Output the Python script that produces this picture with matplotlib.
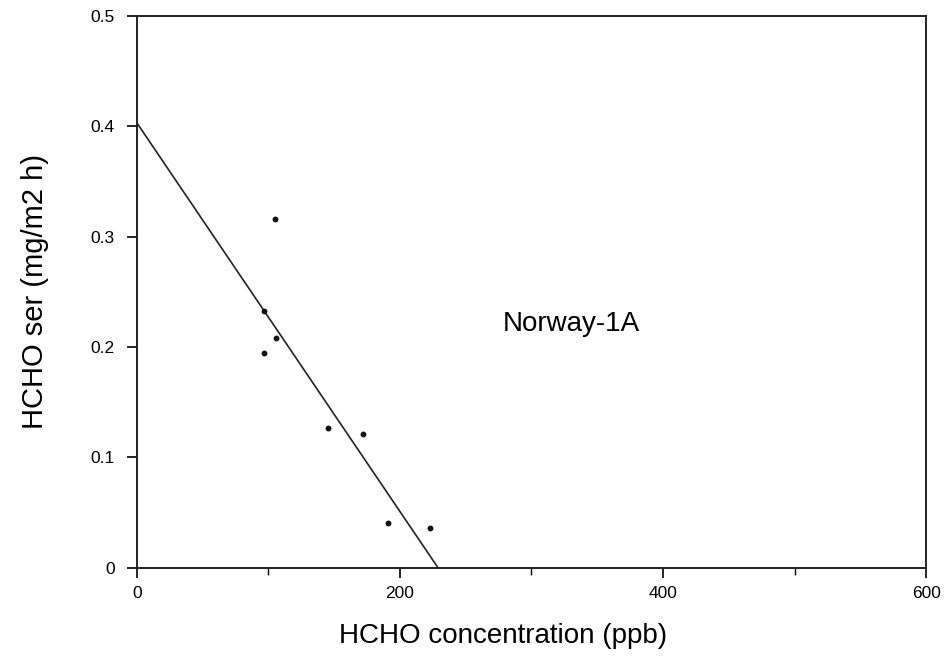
import matplotlib
matplotlib.use("Agg")
import matplotlib.pyplot as plt

plt.rcParams["font.family"] = ["Liberation Sans", "DejaVu Sans"]

# measured emission rate vs. chamber concentration
conc_ppb = [105, 97, 106, 97, 145, 172, 191, 223]
ser = [0.316, 0.233, 0.208, 0.195, 0.127, 0.121, 0.041, 0.036]

# fitted regression line
fit_intercept = 0.403
fit_x_zero = 229

xticks = [0, 200, 400, 600]
xminor = [100, 300, 500]
yticks = [0, 0.1, 0.2, 0.3, 0.4, 0.5]
ytick_labels = ["0", "0.1", "0.2", "0.3", "0.4", "0.5"]

fig = plt.figure(figsize=(9.44, 6.58), dpi=100)
ax = fig.add_axes([0.145, 0.137, 0.836, 0.839])

ax.plot([0, fit_x_zero], [fit_intercept, 0], color="#222222", linewidth=1.2)
ax.plot(conc_ppb, ser, linestyle="none", marker="o", markersize=3.2,
        color="#111111")

ax.set_xlim(0, 600)
ax.set_ylim(0, 0.5)
ax.set_xticks(xticks)
ax.set_xticks(xminor, minor=True)
ax.set_yticks(yticks)
ax.set_yticklabels(ytick_labels)
ax.tick_params(axis="both", which="major", direction="out", length=7,
               width=1.2, labelsize=12.5)
ax.tick_params(axis="x", which="major", pad=6)
ax.tick_params(axis="y", which="major", pad=9)
ax.tick_params(axis="x", which="minor", direction="out", length=5, width=1.0)

for s in ax.spines.values():
    s.set_linewidth(1.4)
    s.set_color("#222222")

ax.set_xlabel("HCHO concentration (ppb)", fontsize=20, labelpad=16, x=0.4645)
ax.set_ylabel("HCHO ser (mg/m2 h)", fontsize=21, labelpad=30)
ax.text(278, 0.221, "Norway-1A", fontsize=20, va="center", ha="left")

fig.savefig("out.png", dpi=100)
